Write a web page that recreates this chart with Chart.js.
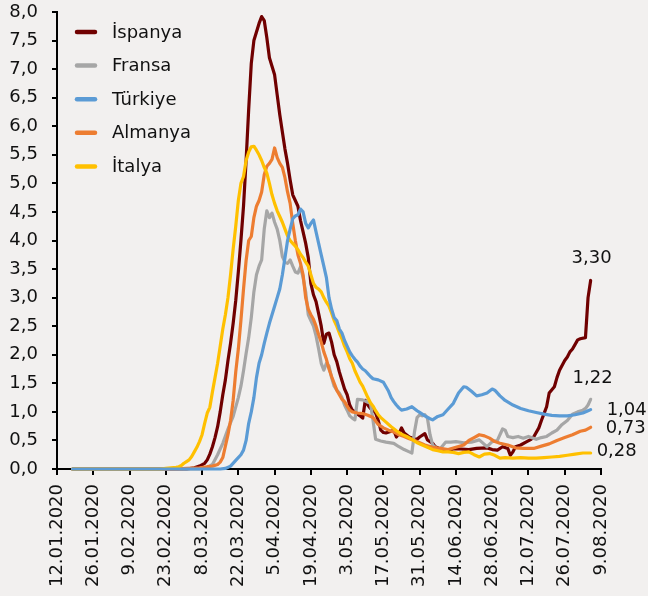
<!DOCTYPE html>
<html>
<head>
<meta charset="utf-8">
<script src="https://cdn.jsdelivr.net/npm/chart.js@4.4.0/dist/chart.umd.min.js"></script>
<style>
  html, body { margin: 0; padding: 0; background: #f2f0ef; }
  #wrap { width: 648px; height: 596px; }
</style>
</head>
<body>
<div id="wrap"><canvas id="casesChart" width="648" height="596"></canvas></div>
<script>
// x = days since 12.01.2020, y = daily new cases (7-day avg, thousands)
const tickLabels = ["12.01.2020", "26.01.2020", "9.02.2020", "23.02.2020", "8.03.2020", "22.03.2020",
  "5.04.2020", "19.04.2020", "3.05.2020", "17.05.2020", "31.05.2020", "14.06.2020",
  "28.06.2020", "12.07.2020", "26.07.2020", "9.08.2020"];
const seriesNames = ["İspanya", "Fransa", "Türkiye", "Almanya", "İtalya"];
const seriesColors = ["#700000", "#a6a6a6", "#5b9bd5", "#ed7d31", "#ffc000"];

const spain = [[6,0],[50,0],[53,0.02],[55,0.05],[57,0.1],[58,0.16],[59,0.26],[60,0.39],[61,0.55],[62,0.74],[63,1.0],[64,1.3],[65,1.56],[66,1.9],[67,2.2],[68,2.55],[69,2.95],[70,3.45],[71,4.0],[72,4.6],[73,5.4],[74,6.3],[75,7.1],[76,7.5],[77,7.65],[78,7.8],[79,7.92],[80,7.85],[81,7.55],[82,7.2],[83,7.05],[84,6.9],[85,6.55],[86,6.2],[87,5.9],[88,5.6],[89,5.35],[90,5.06],[91,4.8],[92,4.7],[93,4.6],[94,4.35],[95,4.15],[96,3.95],[97,3.7],[98,3.25],[99,3.05],[100,2.93],[101,2.72],[102,2.5],[103,2.2],[104,2.36],[105,2.38],[106,2.22],[107,2.0],[108,1.88],[109,1.7],[110,1.55],[111,1.4],[112,1.3],[113,1.12],[114,1.03],[115,1.0],[116,0.96],[117,0.93],[118,0.89],[119,1.2],[120,1.12],[121,1.06],[122,1.03],[123,0.98],[124,0.85],[125,0.68],[126,0.64],[127,0.63],[129,0.66],[130,0.68],[131,0.56],[132,0.62],[133,0.72],[134,0.63],[136,0.56],[138,0.53],[139,0.52],[140,0.56],[142,0.62],[143,0.51],[145,0.45],[146,0.39],[148,0.35],[150,0.31],[153,0.35],[156,0.35],[159,0.34],[162,0.36],[166,0.37],[168,0.34],[170,0.33],[172,0.39],[174,0.36],[175,0.24],[176,0.3],[177,0.39],[179,0.42],[181,0.47],[183,0.52],[184,0.56],[186,0.72],[187,0.85],[188,0.97],[189,1.09],[190,1.33],[192,1.44],[193,1.6],[194,1.73],[196,1.9],[197,1.96],[198,2.05],[199,2.1],[201,2.26],[202,2.28],[204,2.3],[205,3.0],[206,3.3]];

const france = [[6,0],[55,0],[58,0.02],[60,0.08],[62,0.25],[64,0.45],[66,0.7],[68,0.92],[70,1.25],[71,1.45],[72,1.72],[73,2.02],[74,2.3],[75,2.65],[76,3.1],[77,3.4],[78,3.55],[79,3.66],[80,4.2],[81,4.52],[82,4.4],[83,4.48],[84,4.32],[85,4.2],[86,4.0],[87,3.72],[88,3.62],[89,3.6],[90,3.66],[91,3.55],[92,3.45],[93,3.43],[94,3.54],[95,3.35],[96,3.1],[97,2.7],[98,2.6],[99,2.5],[100,2.33],[101,2.1],[102,1.85],[103,1.73],[104,1.85],[105,1.8],[106,1.6],[107,1.45],[108,1.38],[109,1.33],[110,1.25],[111,1.12],[112,1.03],[113,0.93],[114,0.89],[115,0.86],[116,1.22],[118,1.21],[120,1.17],[121,1.15],[122,0.85],[123,0.52],[125,0.49],[127,0.47],[130,0.45],[132,0.39],[134,0.34],[136,0.3],[137,0.28],[138,0.65],[139,0.9],[140,0.95],[141,0.93],[142,0.95],[143,0.89],[144,0.6],[145,0.42],[146,0.38],[147,0.34],[148,0.36],[150,0.47],[152,0.47],[154,0.48],[157,0.46],[160,0.47],[163,0.51],[164,0.47],[166,0.39],[168,0.48],[170,0.5],[172,0.7],[173,0.68],[174,0.57],[176,0.55],[178,0.57],[180,0.54],[182,0.57],[185,0.52],[187,0.55],[189,0.57],[191,0.63],[193,0.68],[195,0.78],[197,0.85],[199,0.96],[201,1.0],[203,1.03],[204,1.06],[205,1.12],[206,1.22]];

const turkey = [[6,0],[63,0],[65,0.01],[67,0.05],[69,0.15],[71,0.25],[72,0.33],[73,0.5],[74,0.8],[75,1.0],[76,1.25],[77,1.6],[78,1.85],[79,2.0],[80,2.2],[81,2.38],[82,2.55],[83,2.7],[84,2.85],[85,3.0],[86,3.15],[87,3.4],[88,3.7],[89,4.0],[90,4.2],[91,4.38],[92,4.43],[93,4.45],[94,4.55],[95,4.5],[96,4.3],[97,4.22],[98,4.3],[99,4.36],[100,4.15],[101,3.95],[102,3.75],[103,3.55],[104,3.35],[105,3.0],[106,2.8],[107,2.65],[108,2.6],[109,2.45],[110,2.38],[111,2.25],[112,2.15],[113,2.05],[114,1.98],[115,1.92],[116,1.87],[117,1.8],[118,1.75],[119,1.72],[120,1.67],[121,1.62],[122,1.58],[124,1.56],[126,1.52],[127,1.44],[128,1.36],[129,1.25],[130,1.18],[131,1.12],[132,1.07],[133,1.03],[135,1.05],[137,1.09],[139,1.02],[140,0.99],[142,0.93],[144,0.88],[145,0.86],[147,0.92],[149,0.95],[151,1.05],[153,1.15],[155,1.33],[157,1.44],[158,1.43],[160,1.36],[162,1.28],[164,1.3],[166,1.33],[168,1.4],[169,1.38],[171,1.28],[173,1.2],[176,1.12],[179,1.06],[182,1.02],[185,0.99],[188,0.96],[191,0.94],[194,0.93],[197,0.93],[200,0.95],[203,0.98],[205,1.02],[206,1.04]];

const germany = [[6,0],[45,0],[50,0.01],[55,0.02],[58,0.04],[60,0.05],[62,0.08],[63,0.12],[64,0.2],[65,0.4],[66,0.6],[67,0.85],[68,1.2],[69,1.7],[70,2.1],[71,2.6],[72,3.15],[73,3.65],[74,4.0],[75,4.07],[76,4.4],[77,4.6],[78,4.7],[79,4.85],[80,5.15],[81,5.3],[82,5.35],[83,5.42],[84,5.62],[85,5.45],[86,5.35],[87,5.28],[88,5.1],[89,4.85],[90,4.65],[91,4.3],[92,4.0],[93,3.75],[94,3.6],[95,3.4],[96,3.0],[97,2.8],[98,2.7],[99,2.62],[100,2.5],[101,2.35],[102,2.22],[103,2.05],[104,1.92],[105,1.75],[106,1.62],[107,1.5],[108,1.38],[109,1.3],[110,1.22],[111,1.18],[112,1.1],[113,1.03],[114,1.0],[116,0.98],[118,0.97],[120,0.94],[122,0.9],[124,0.78],[126,0.72],[128,0.68],[130,0.65],[132,0.6],[134,0.57],[136,0.53],[138,0.5],[140,0.46],[142,0.42],[145,0.38],[148,0.36],[151,0.34],[154,0.38],[157,0.42],[159,0.5],[161,0.55],[163,0.6],[165,0.58],[167,0.54],[169,0.48],[171,0.45],[174,0.42],[177,0.37],[180,0.36],[184,0.36],[187,0.4],[190,0.44],[193,0.5],[196,0.55],[199,0.6],[202,0.66],[204,0.68],[206,0.73]];

const italy = [[6,0],[40,0],[42,0.01],[44,0.02],[46,0.03],[47,0.04],[48,0.06],[49,0.1],[50,0.13],[51,0.16],[52,0.22],[53,0.3],[54,0.38],[55,0.48],[56,0.6],[57,0.8],[58,0.98],[59,1.08],[60,1.35],[61,1.6],[62,1.85],[63,2.15],[64,2.45],[65,2.7],[66,3.0],[67,3.4],[68,3.85],[69,4.25],[70,4.7],[71,5.0],[72,5.12],[73,5.4],[74,5.55],[75,5.64],[76,5.65],[77,5.58],[78,5.5],[79,5.4],[80,5.28],[81,5.18],[82,5.0],[83,4.8],[84,4.65],[85,4.52],[86,4.42],[87,4.32],[88,4.2],[89,4.08],[90,4.0],[91,3.95],[92,3.9],[93,3.84],[94,3.76],[95,3.7],[96,3.62],[97,3.55],[98,3.4],[99,3.25],[100,3.18],[101,3.15],[102,3.1],[103,3.0],[104,2.92],[105,2.85],[106,2.73],[107,2.6],[108,2.5],[109,2.38],[110,2.28],[111,2.15],[112,2.05],[113,1.93],[114,1.85],[115,1.72],[116,1.62],[117,1.52],[118,1.45],[119,1.35],[120,1.25],[121,1.16],[122,1.1],[123,1.02],[124,0.95],[125,0.9],[127,0.82],[129,0.74],[131,0.67],[133,0.61],[135,0.57],[137,0.52],[139,0.46],[141,0.42],[143,0.38],[145,0.34],[147,0.32],[149,0.3],[151,0.3],[153,0.29],[155,0.27],[157,0.29],[159,0.3],[161,0.25],[163,0.21],[165,0.26],[167,0.27],[169,0.24],[171,0.19],[173,0.2],[176,0.19],[179,0.2],[182,0.19],[185,0.19],[188,0.2],[191,0.21],[194,0.22],[197,0.24],[200,0.26],[203,0.28],[206,0.28]];

const allSeries = [spain, france, turkey, germany, italy];
const drawOrder = [4, 3, 0, 2, 1]; // lower = drawn on top

const FONT = "'DejaVu Sans', sans-serif";
const fmt = (v, d) => v.toFixed(d).replace(".", ",");

// legend in the top-left corner of the plot
const legendPlugin = {
  id: "cornerLegend",
  afterDraw(chart) {
    const ctx = chart.ctx;
    ctx.save();
    ctx.font = "18px " + FONT;
    ctx.textBaseline = "middle";
    seriesNames.forEach((name, i) => {
      const y = 32 + i * 33.6;
      ctx.strokeStyle = seriesColors[i];
      ctx.lineWidth = 4.5;
      ctx.lineCap = "round";
      ctx.beginPath();
      ctx.moveTo(77, y);
      ctx.lineTo(95, y);
      ctx.stroke();
      ctx.fillStyle = "#111";
      ctx.fillText(name, 112, y + 1);
    });
    ctx.restore();
  }
};

// last value labels
const endLabelPos = [
  { dx: 1, dy: -22, align: "center" },
  { dx: 2, dy: -21, align: "center" },
  { dx: 16, dy: 1, align: "left" },
  { dx: 15, dy: 1, align: "left" },
  { dx: 6, dy: -2, align: "left" }
];
const endLabelPlugin = {
  id: "endLabels",
  afterDraw(chart) {
    const ctx = chart.ctx;
    const xs = chart.scales.x, ys = chart.scales.y;
    ctx.save();
    ctx.font = "18px " + FONT;
    ctx.textBaseline = "middle";
    ctx.fillStyle = "#111";
    allSeries.forEach((s, i) => {
      const last = s[s.length - 1];
      const p = endLabelPos[i];
      ctx.textAlign = p.align;
      ctx.fillText(fmt(last[1], 2), xs.getPixelForValue(last[0]) + p.dx, ys.getPixelForValue(last[1]) + p.dy);
    });
    ctx.restore();
  }
};

new Chart(document.getElementById("casesChart").getContext("2d"), {
  type: "line",
  data: {
    datasets: allSeries.map((s, i) => ({
      label: seriesNames[i],
      data: s.map(([d, v]) => ({ x: d, y: v })),
      borderColor: seriesColors[i],
      backgroundColor: seriesColors[i],
      order: drawOrder[i],
      clip: 6
    }))
  },
  options: {
    responsive: false,
    animation: false,
    layout: { padding: { top: 12, right: 47, left: 0, bottom: 0 } },
    plugins: { legend: { display: false }, tooltip: { enabled: false } },
    elements: {
      point: { radius: 0 },
      line: { borderWidth: 3.2, tension: 0, borderJoinStyle: "round", borderCapStyle: "round" }
    },
    scales: {
      x: {
        type: "linear",
        min: 0,
        max: 210,
        afterFit: (s) => {
          s.height = 127;
          s.paddingLeft = 0;
          s.paddingRight = 0;
        },
        ticks: {
          stepSize: 14,
          autoSkip: false,
          maxRotation: 90,
          minRotation: 90,
          padding: 9,
          color: "#111",
          font: { family: FONT, size: 18 },
          callback: (v) => tickLabels[Math.round(v / 14)]
        },
        grid: { drawOnChartArea: false, tickLength: 6, color: "#000", lineWidth: 2 },
        border: { color: "#000", width: 2 }
      },
      y: {
        min: 0,
        max: 8,
        afterFit: (s) => {
          s.width = 57;
          s.paddingTop = 0;
          s.paddingBottom = 0;
        },
        ticks: {
          stepSize: 0.5,
          padding: 14,
          color: "#111",
          font: { family: FONT, size: 18 },
          callback: (v) => fmt(v, 1)
        },
        grid: { drawOnChartArea: false, tickLength: 5, color: "#000", lineWidth: 2 },
        border: { color: "#000", width: 2 }
      }
    }
  },
  plugins: [legendPlugin, endLabelPlugin]
});
</script>
</body>
</html>
